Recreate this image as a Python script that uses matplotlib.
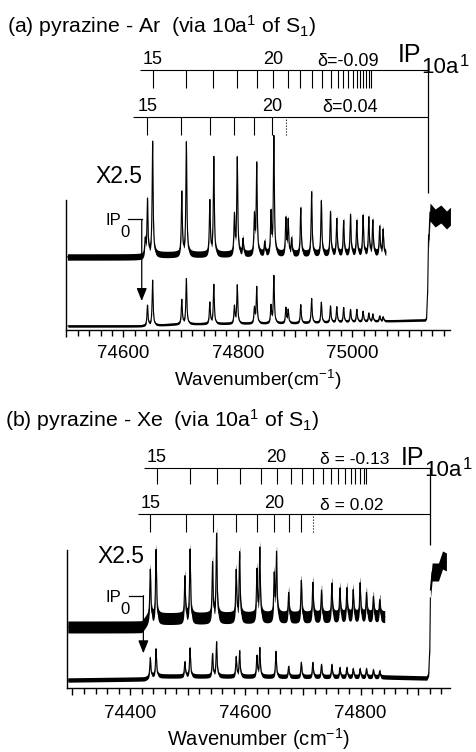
import numpy as np
import matplotlib
matplotlib.use('Agg')
import matplotlib.pyplot as plt

plt.rcParams['font.family'] = ['Liberation Sans', 'DejaVu Sans']
plt.rcParams['mathtext.fontset'] = 'custom'
plt.rcParams['mathtext.rm'] = 'Liberation Sans'
plt.rcParams['mathtext.it'] = 'Liberation Sans:italic'
plt.rcParams['mathtext.bf'] = 'Liberation Sans:bold'

# ---------------- data: panel (a) pyrazine-Ar ----------------
a_ip = 75133
a_ladder1 = [74651, 74710, 74757, 74798, 74834, 74862, 74887, 74909, 74929, 74947,
             74963, 74975, 74984, 74993, 75001, 75008, 75014, 75019, 75024, 75029, 75033]
a_ladder2 = [74642, 74701, 74752, 74793, 74828, 74860, 74884]
a_up_pos = [74638, 74642, 74651, 74702, 74710, 74751, 74758, 74794, 74799, 74809,
            74829, 74833, 74847, 74858, 74863, 74884, 74888, 74894, 74910, 74929,
            74946, 74962, 74973, 74985, 74997, 75008, 75019, 75029, 75036, 75048, 75054]
a_up_int = [15, 55, 113, 62, 112, 53, 97, 38, 96, 15,
            37, 90, 12, 40, 117, 35, 33, 15, 46, 62,
            53, 42, 35, 33, 39, 33, 38, 36, 33, 27, 24]
a_up_base_x = [74502, 74632, 74645, 75059]
a_up_base_y = [73, 73, 75, 76]
a_up_post_x = [75134, 75136, 75145, 75155, 75165, 75172]
a_up_post_y = [90, 118, 112, 116, 110, 114]
a_lo_pos = [74642, 74651, 74702, 74710, 74751, 74758, 74794, 74799, 74829, 74833,
            74858, 74863, 74884, 74888, 74910, 74929, 74946, 74962, 74973, 74985,
            74997, 75008, 75019, 75029, 75036, 75048, 75054]
a_lo_int = [20, 45, 24, 45, 21, 39, 17, 38, 15, 36,
            17, 47, 15, 13, 18, 24, 20, 16, 15, 14,
            12, 12, 10, 8, 7, 5, 4]
a_lo_base_x = [74503, 74630, 74700, 74900, 75050, 75128]
a_lo_base_y = [4, 4, 6, 7, 9, 10]
a_lo_rise_x = [75130, 75132, 75133.5]
a_lo_rise_y = [12, 40, 95]
a_ticklabels = [74600, 74800, 75000]

# ---------------- data: panel (b) pyrazine-Xe ----------------
b_ip = 74920
b_ladder1 = [74446, 74504, 74551, 74591, 74627, 74654, 74679, 74699, 74718, 74734,
             74749, 74761, 74773, 74783, 74791, 74799, 74805, 74809]
b_ladder2 = [74435, 74497, 74543, 74584, 74620, 74650, 74675, 74696, 74717]
b_up_pos = [74435, 74445, 74495, 74504, 74543, 74550, 74584, 74590, 74620, 74625,
            74650, 74654, 74675, 74697, 74717, 74732, 74750, 74764, 74776, 74787,
            74799, 74810, 74822, 74833]
b_up_int = [49, 69, 42, 69, 55, 84, 47, 65, 47, 69,
            42, 64, 25, 37, 35, 27, 34, 29, 29, 27,
            34, 24, 20, 17]
b_up_base_x = [74292, 74420, 74432, 74842]
b_up_base_y = [61, 61, 69, 71]
b_up_post_x = [74921, 74924, 74935, 74942, 74949]
b_up_post_y = [98, 116, 116, 128, 126]
b_lo_pos = [74435, 74445, 74495, 74504, 74543, 74550, 74584, 74590, 74620, 74625,
            74653, 74675, 74697, 74717, 74732, 74750, 74764, 74776, 74787, 74799,
            74810, 74822, 74833]
b_lo_int = [19, 27, 14, 28, 22, 34, 19, 25, 20, 28,
            25, 10, 14, 14, 12, 12, 9, 9, 8, 8,
            8, 7, 6]
b_lo_base_x = [74292, 74425, 74440, 74840, 74915]
b_lo_base_y = [8, 9, 12, 11, 10]
b_lo_rise_x = [74918, 74920, 74921]
b_lo_rise_y = [14, 40, 90]
b_ticklabels = [74400, 74600, 74800]

# ---------------- layout ----------------
W, H = 477, 752
fig = plt.figure(figsize=(W / 100, H / 100), dpi=100)


def fx(px):
    return px / W


def fy(py):
    return 1 - py / H


def make_axes(left, right, top, bottom):
    return fig.add_axes([fx(left), fy(bottom), fx(right) - fx(left), (bottom - top) / H])


def trace(x, pos, hts, g):
    y = np.zeros_like(x)
    for p, h in zip(pos, hts):
        y += h / (1 + ((x - p) / g) ** 2)
    return y


LW = 0.8


def draw_panel(ax, xlim, ylim, spine_top, ip, l1, l2, geo, up, lo, ticklabels,
               xlabel, xlsize, lpad, tpad):
    ax.set_xlim(*xlim)
    ax.set_ylim(*ylim)
    for s in ['top', 'right']:
        ax.spines[s].set_visible(False)
    ax.spines['left'].set_bounds(0, spine_top)
    for s in ['left', 'bottom']:
        ax.spines[s].set_linewidth(1.0)
    ax.set_yticks([])
    majors = np.arange(ticklabels[0] - 100, xlim[1], 100)
    ax.set_xticks(majors)
    ax.set_xticks(np.arange(ticklabels[0] - 100, xlim[1], 20), minor=True)
    ax.set_xticklabels([str(v) if v in ticklabels else '' for v in majors])
    ax.tick_params(axis='x', which='major', length=5, width=1.0, labelsize=13.5, pad=tpad)
    ax.tick_params(axis='x', which='minor', length=4, width=1.0)
    ax.set_xlabel(xlabel, fontsize=xlsize, labelpad=lpad)

    # ladders
    y1, t1, y2, t2, x1s, x2s, ipbot = geo
    ax.hlines(y1, x1s, ip, color='k', lw=0.8)
    ax.vlines(l1, t1, y1, color='k', lw=0.8)
    ax.hlines(y2, x2s, ip, color='k', lw=0.8)
    ax.vlines(l2[:-1], t2, y2, color='k', lw=0.8)
    ax.vlines(l2[-1:], t2, y2, color='k', lw=0.8, linestyles=':')
    ax.vlines(ip, ipbot, y1, color='k', lw=0.9)

    # traces
    for (pos, hts, bx, by, amp, extra_x, extra_y, kind) in (up, lo):
        x = np.arange(bx[0], bx[-1], 0.25)
        y = np.interp(x, bx, by) + trace(x, pos, hts, 1.0)
        if kind == 'lo':
            x = np.concatenate([x, extra_x])
            y = np.concatenate([y, extra_y])
        ax.fill_between(x, y - amp, y + amp, color='k', lw=0)
        ax.plot(x, y, color='k', lw=LW)
        if kind == 'up':
            xp = np.arange(extra_x[0], extra_x[-1], 0.25)
            yp = np.interp(xp, extra_x, extra_y)
            ax.fill_between(xp, yp - 9, yp + 9, color='k', lw=0)
            ax.plot(xp, yp, color='k', lw=LW)


# ---- panel (a)
axa = make_axes(66.25, 450, 40, 330)
draw_panel(axa, (74500, 75171), (0, 290), 130, a_ip, a_ladder1, a_ladder2,
           (260, 242, 213, 195, 74629, 74617, 137),
           (a_up_pos, a_up_int, a_up_base_x, a_up_base_y, 3.2, a_up_post_x, a_up_post_y, 'up'),
           (a_lo_pos, a_lo_int, a_lo_base_x, a_lo_base_y, 1.2, a_lo_rise_x, a_lo_rise_y, 'lo'),
           a_ticklabels, 'Wavenumber(cm$^{-1}$)', 13.7, 4, 6)

# ---- panel (b)
axb = make_axes(66.7, 450, 400, 688)
draw_panel(axb, (74290, 74955), (0, 288), 138, b_ip, b_ladder1, b_ladder2,
           (220.3, 204, 174, 156.3, 74424, 74414, 143),
           (b_up_pos, b_up_int, b_up_base_x, b_up_base_y, 6.0, b_up_post_x, b_up_post_y, 'up'),
           (b_lo_pos, b_lo_int, b_lo_base_x, b_lo_base_y, 2.2, b_lo_rise_x, b_lo_rise_y, 'lo'),
           b_ticklabels, 'Wavenumber (cm$^{-1}$)', 14.5, 3, 7)


def ip0_marker(ax, xl, xr, ybr, ytip):
    ax.plot([xl, xr], [ybr, ybr], color='k', lw=0.9)
    ax.annotate('', xy=(xr, ytip), xytext=(xr, ybr),
                arrowprops=dict(arrowstyle='-|>,head_length=0.55,head_width=0.22',
                                color='k', lw=0.9, mutation_scale=14, shrinkA=0, shrinkB=0))


ip0_marker(axa, 74608, 74632, 110.5, 29)
ip0_marker(axb, 74398, 74423, 92.3, 34.7)


# ---- texts (figure pixel coordinates)
def ftext(px, py, s, size, ha='left'):
    fig.text(fx(px), fy(py), s, fontsize=size, ha=ha, va='baseline')


ftext(7, 33, r'(a) pyrazine - Ar  (via 10a$^{\mathregular{1}}$ of S$_{\mathregular{1}}$)', 15.3)
ftext(5, 427, r'(b) pyrazine - Xe  (via 10a$^{\mathregular{1}}$ of S$_{\mathregular{1}}$)', 15.3)

# X2.5
ftext(95, 183, 'X2.5', 16.5)
ftext(97, 563, 'X2.5', 16.5)

# IP0 labels
ftext(106, 225, 'IP', 12)
ftext(120, 237, '0', 12)
ftext(106, 602, 'IP', 12)
ftext(120, 614, '0', 12)

# IP10a1 labels
ftext(398, 62, 'IP', 18)
ftext(421, 73, '10a', 16)
ftext(460, 66, '1', 12)
ftext(401, 465, 'IP', 18)
ftext(424, 476, '10a', 16)
ftext(463, 469, '1', 12)

# ladder labels panel (a)
axa.text(a_ladder1[0], 262, '15', fontsize=13, ha='center', va='bottom')
axa.text(a_ladder1[5], 262, '20', fontsize=13, ha='center', va='bottom')
axa.text(a_ladder2[0], 215, '15', fontsize=13, ha='center', va='bottom')
axa.text(a_ladder2[5], 215, '20', fontsize=13, ha='center', va='bottom')
ftext(348, 66, 'δ=-0.09', 13, ha='center')
ftext(350, 112, 'δ=0.04', 13, ha='center')

# ladder labels panel (b)
axb.text(b_ladder1[0], 222, '15', fontsize=13, ha='center', va='bottom')
axb.text(b_ladder1[5], 222, '20', fontsize=13, ha='center', va='bottom')
axb.text(b_ladder2[0], 176, '15', fontsize=13, ha='center', va='bottom')
axb.text(b_ladder2[5], 176, '20', fontsize=13, ha='center', va='bottom')
ftext(355, 464, 'δ = -0.13', 12.5, ha='center')
ftext(352, 510, 'δ = 0.02', 12.5, ha='center')

fig.savefig('out.png', dpi=100)
